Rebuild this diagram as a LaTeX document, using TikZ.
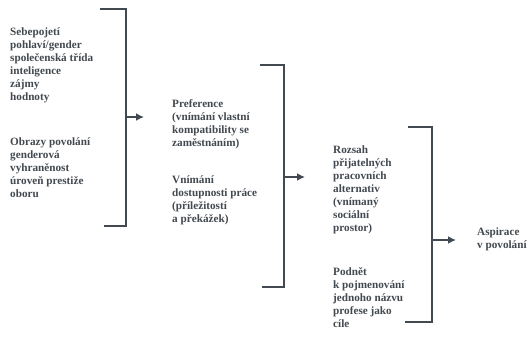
\documentclass[tikz,border=0pt]{standalone}
\usepackage{fontspec}
\setmainfont{Liberation Serif}
\usetikzlibrary{arrows.meta}
\definecolor{ink}{HTML}{434950}
\begin{document}
\begin{tikzpicture}[x=1pt,y=-1pt,
  txt/.style={anchor=north west,align=left,inner sep=0pt,text=ink,
    font=\bfseries\fontsize{11.2}{13}\selectfont},
  brk/.style={draw=ink,line width=2pt},
  arr/.style={draw=ink,line width=1.8pt,-{Latex[length=8pt,width=8pt]}}]
\useasboundingbox[fill=white] (0,0) rectangle (528,351);
% column 1
\node[txt] (a1) at (10,28) {Sebepojetí\\pohlaví/gender\\společenská třída\\inteligence\\zájmy\\hodnoty};
\node[txt] (a2) at (10,138) {Obrazy povolání\\genderová\\vyhraněnost\\úroveň prestiže\\oboru};
% column 2
\node[txt] (b1) at (172,99) {Preference\\(vnímání vlastní\\kompatibility se\\zaměstnáním)};
\node[txt] (b2) at (172,176) {Vnímání\\dostupnosti práce\\(příležitostí\\a překážek)};
% column 3
\node[txt] (c1) at (333,146) {Rozsah\\přijatelných\\pracovních\\alternativ\\(vnímaný\\sociální\\prostor)};
\node[txt] (c2) at (333,267) {Podnět\\k pojmenování\\jednoho názvu\\profese jako\\cíle};
% column 4
\node[txt] (d1) at (477,228) {Aspirace\\v povolání};
% brackets
\coordinate (k1t) at (100,9);  \coordinate (k1b) at (104,226);
\coordinate (k2t) at (260,65); \coordinate (k2b) at (262,287);
\coordinate (k3t) at (408,127);\coordinate (k3b) at (405,322);
\draw[brk] (k1t) -| (126,226) -- (k1b);
\draw[brk] (k2t) -| (284,287) -- (k2b);
\draw[brk] (k3t) -| (432,322) -- (k3b);
% arrows
\coordinate (m1) at (126,117); \coordinate (e1) at (144,117);
\coordinate (m2) at (284,177); \coordinate (e2) at (305,177);
\coordinate (m3) at (432,240); \coordinate (e3) at (456,240);
\draw[arr] (m1) -- (e1);
\draw[arr] (m2) -- (e2);
\draw[arr] (m3) -- (e3);
\end{tikzpicture}
\end{document}
